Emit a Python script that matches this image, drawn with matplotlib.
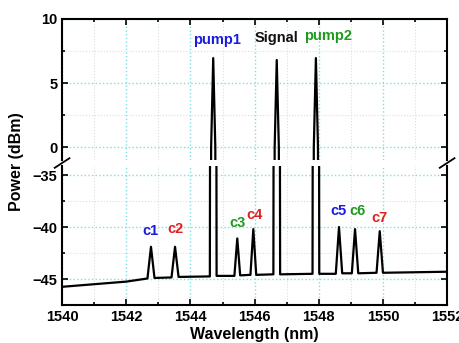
import numpy as np
import matplotlib
import matplotlib.pyplot as plt
from matplotlib.ticker import MultipleLocator

matplotlib.rcParams["font.family"] = ["Liberation Sans", "DejaVu Sans"]
matplotlib.rcParams["font.weight"] = "bold"
matplotlib.rcParams["font.size"] = 10.5

# spectrum trace vertices (nm, dBm)
wl = [1540.0, 1542.0, 1542.66, 1542.77, 1542.88, 1543.41, 1543.52, 1543.63,
      1544.605, 1544.61, 1544.645, 1544.71, 1544.775, 1544.81, 1544.815,
      1545.37, 1545.46, 1545.55, 1545.87, 1545.96, 1546.05,
      1546.585, 1546.59, 1546.625, 1546.69, 1546.755, 1546.79, 1546.795,
      1547.805, 1547.81, 1547.845, 1547.91, 1547.975, 1548.01, 1548.015,
      1548.53, 1548.63, 1548.73, 1549.03, 1549.13, 1549.23,
      1549.80, 1549.90, 1550.00, 1552.0]
power = [-45.75, -45.25, -44.95, -41.9, -44.9, -44.85, -41.9, -44.8,
         -44.75, -34.0, 0.0, 6.95, 0.0, -34.0, -44.7,
         -44.7, -41.1, -44.65, -44.6, -40.2, -44.6,
         -44.55, -34.0, 0.0, 6.8, 0.0, -34.0, -44.55,
         -44.5, -34.0, 0.0, 6.95, 0.0, -34.0, -44.5,
         -44.5, -40.0, -44.45, -44.45, -40.2, -44.45,
         -44.4, -40.4, -44.4, -44.3]

labels = ["pump1", "Signal", "pump2", "c1", "c2", "c3", "c4", "c5", "c6", "c7"]
label_x = [1544.83, 1546.69, 1548.29, 1542.74, 1543.52, 1545.48, 1546.0, 1548.63, 1549.22, 1549.9]
label_y = [8.05, 8.2, 8.35, -40.8, -40.55, -40.0, -39.2, -38.85, -38.85, -39.5]
label_col = ["#1a1ae0", "#111111", "#1e9a1e", "#1a1ae0", "#e02020", "#1e9a1e",
             "#e02020", "#1a1ae0", "#1e9a1e", "#e02020"]

fig = plt.figure(figsize=(4.6, 3.43), dpi=100)
# top panel: y 19..160 px, bottom panel: y 166..305 px
ax_top = fig.add_axes([0.135, 1 - 160 / 343, 0.837, 141 / 343])
ax_bot = fig.add_axes([0.135, 1 - 305 / 343, 0.837, 139 / 343])

for ax in (ax_top, ax_bot):
    ax.plot(wl, power, color="black", lw=1.6)
    ax.set_xlim(1540, 1552)
    ax.xaxis.set_major_locator(MultipleLocator(2))
    ax.xaxis.set_minor_locator(MultipleLocator(1))
    ax.grid(True, which="major", color="#7fe0e0", ls=":", lw=1.0)
    ax.grid(True, which="minor", color="#dddddd", ls=":", lw=0.8)
    ax.tick_params(which="both", direction="in", top=True, right=True,
                   width=1.2, labelsize=10.5)
    ax.tick_params(which="major", length=4)
    ax.tick_params(which="minor", length=2.5)
    for s in ax.spines.values():
        s.set_linewidth(1.5)

ax_top.set_ylim(-1.0, 10)
ax_top.yaxis.set_major_locator(MultipleLocator(5))
ax_top.yaxis.set_minor_locator(MultipleLocator(2.5))
ax_top.spines["bottom"].set_visible(False)
ax_top.tick_params(which="both", bottom=False, labelbottom=False)

ax_bot.set_ylim(-47.5, -34.13)
ax_bot.yaxis.set_major_locator(MultipleLocator(5))
ax_bot.yaxis.set_minor_locator(MultipleLocator(2.5))
ax_bot.spines["top"].set_visible(False)
ax_bot.tick_params(which="both", top=False)
ax_bot.set_xlabel("Wavelength (nm)", fontsize=11.5, fontweight="bold", labelpad=2)
fig.text(0.035, 0.53, "Power (dBm)", rotation=90, ha="center", va="center",
         fontsize=11.5, fontweight="bold")

for i in range(3):
    ax_top.text(label_x[i], label_y[i], labels[i], color=label_col[i],
                ha="center", va="baseline", fontsize=10.5, fontweight="bold")
for i in range(3, len(labels)):
    ax_bot.text(label_x[i], label_y[i], labels[i], color=label_col[i],
                ha="center", va="baseline", fontsize=10.5, fontweight="bold")

# break marks on both spines
yb = 1 - 163 / 343
for xs in (0.135, 0.972):
    fig.add_artist(plt.Line2D([xs - 0.016, xs + 0.016],
                              [yb - 0.014, yb + 0.014],
                              color="black", lw=1.3, zorder=6))

fig.savefig("out.png", dpi=100)
